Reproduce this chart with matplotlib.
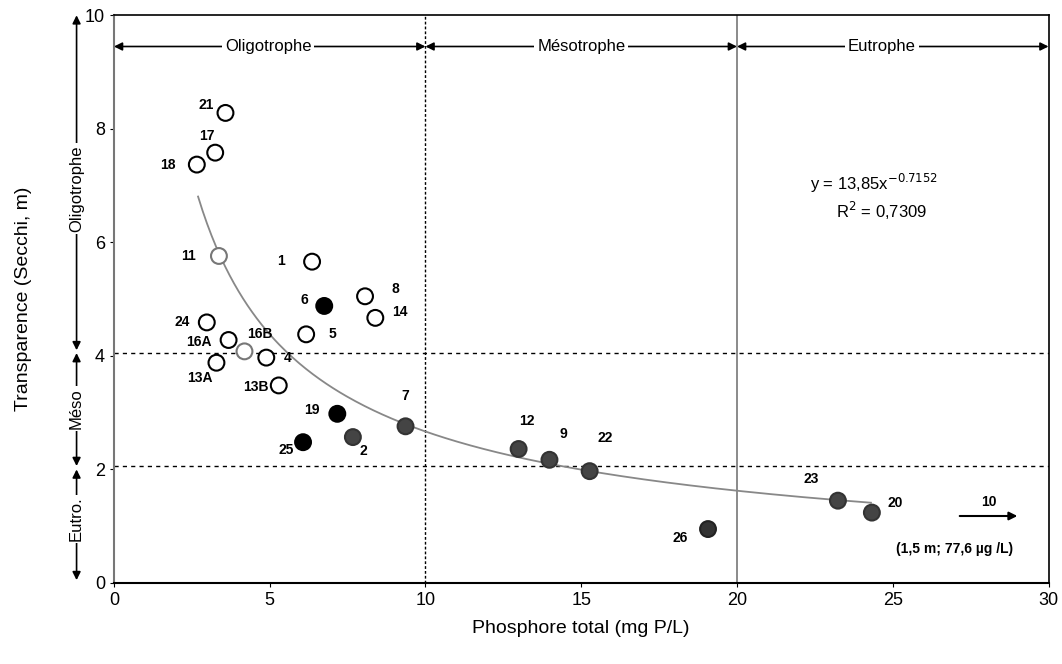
import matplotlib.pyplot as plt
import matplotlib.transforms as mtransforms
import numpy as np

plt.rcParams["font.family"] = ["Liberation Sans", "DejaVu Sans"]

# station data (total P, Secchi depth)
labels = ["21", "17", "18", "11", "1", "8", "6", "14", "24", "5", "16A", "16B", "4",
          "13A", "13B", "19", "7", "25", "2", "12", "9", "22", "26", "23", "20"]
phos = [3.58, 3.25, 2.66, 3.37, 6.36, 8.06, 6.75, 8.39, 2.98, 6.17, 3.68, 4.19, 4.89,
        3.29, 5.29, 7.17, 9.36, 6.07, 7.67, 12.99, 13.98, 15.27, 19.07, 23.24, 24.33]
secchi = [8.28, 7.58, 7.37, 5.76, 5.66, 5.05, 4.88, 4.67, 4.59, 4.38, 4.28, 4.08, 3.97,
          3.88, 3.48, 2.98, 2.76, 2.48, 2.57, 2.36, 2.17, 1.97, 0.95, 1.45, 1.24]
face = ["white", "white", "white", "white", "white", "white", "black", "white", "white",
        "white", "white", "white", "white", "white", "white", "black", "#444444", "black",
        "#444444", "#444444", "#444444", "#444444", "#333333", "#444444", "#444444"]
edge = ["black", "black", "black", "#777777", "black", "black", "black", "black", "black",
        "black", "black", "#777777", "black", "black", "black", "black", "#333333", "black",
        "#333333", "#333333", "#333333", "#333333", "#222222", "#333333", "#333333"]
# label offsets in pixels (dx, dy)
offsets = [(-19, 8), (-8, 17), (-29, 0), (-30, 0), (-31, 1), (30, 7), (-20, 6), (25, 6),
           (-25, 0), (26, 0), (-30, -2), (15, 17), (21, 0), (-17, -15), (-23, -2), (-25, 4),
           (0, 30), (-17, -8), (10, -14), (8, 28), (14, 26), (15, 33), (-28, -9), (-27, 22),
           (23, 10)]

fit_a = 13.85
fit_b = -0.7152
fit_range = (2.7, 24.3)

x_limits = (0, 30)
y_limits = (0, 10)
p_bounds = [10, 20]
s_bounds = [4.05, 2.06]

fig = plt.figure(figsize=(10.62, 6.64), dpi=100)
ax = fig.add_axes([0.1073, 0.122, 0.88, 0.855])
ax.set_xlim(*x_limits)
ax.set_ylim(*y_limits)

# fit curve
xf = np.linspace(fit_range[0], fit_range[1], 300)
ax.plot(xf, fit_a * xf ** fit_b, color="#888888", lw=1.3, zorder=2)

# class boundaries
ax.axvline(p_bounds[0], color="black", lw=1.0, ls=(0, (2, 1.5)), zorder=1)
ax.axvline(p_bounds[1], color="#777777", lw=1.2, zorder=1)
for yb in s_bounds:
    ax.axhline(yb, color="black", lw=1.0, ls=(0, (3, 3)), zorder=1)

ax.scatter(phos, secchi, s=130, c=face, edgecolors=edge, linewidths=1.5, zorder=3)
for lab, x, y, (dx, dy) in zip(labels, phos, secchi, offsets):
    ax.annotate(lab, (x, y), xytext=(dx * 0.72, dy * 0.72), textcoords="offset points",
                ha="center", va="center", fontsize=10, fontweight="bold", zorder=4)

# top trophic classes
top_y = 9.45
classes = [("Oligotrophe", 0, 10, 4.95), ("Mésotrophe", 10, 20, 15.0), ("Eutrophe", 20, 30, 24.65)]
for name, x0, x1, xt in classes:
    ax.annotate("", xy=(x0, top_y), xytext=(x1, top_y),
                arrowprops=dict(arrowstyle="<|-|>", color="black", lw=1.2,
                                mutation_scale=12, shrinkA=0, shrinkB=0))
    ax.text(xt, top_y, name, ha="center", va="center", fontsize=12,
            bbox=dict(facecolor="white", edgecolor="none", pad=2))

# left trophic classes (Secchi)
trans = mtransforms.blended_transform_factory(ax.transAxes, ax.transData)
side_x = -0.04
side = [("Oligotrophe", 4.1, 10, 6.95), ("Méso", 2.06, 4.05, 3.08), ("Eutro.", 0.05, 2.0, 1.13)]
for name, y0, y1, yt in side:
    ax.annotate("", xy=(side_x, y0), xytext=(side_x, y1), xycoords=trans, textcoords=trans,
                arrowprops=dict(arrowstyle="<|-|>", color="black", lw=1.2,
                                mutation_scale=12, shrinkA=0, shrinkB=0),
                annotation_clip=False)
    ax.text(side_x, yt, name, transform=trans, rotation=90, ha="center", va="center",
            fontsize=12, bbox=dict(facecolor="white", edgecolor="none", pad=1.5))

# equation
ax.text(24.4, 7.04, "y = 13,85x$^{\\mathrm{-0.7152}}$", ha="center", va="center", fontsize=12)
ax.text(24.65, 6.55, "R$^2$ = 0,7309", ha="center", va="center", fontsize=12)

# off-scale station 10
ax.annotate("", xy=(29.0, 1.18), xytext=(27.15, 1.18),
            arrowprops=dict(arrowstyle="-|>", color="black", lw=1.5, mutation_scale=12,
                            shrinkA=0, shrinkB=0))
ax.text(28.1, 1.43, "10", ha="center", va="center", fontsize=10, fontweight="bold")
ax.text(27.0, 0.6, "(1,5 m; 77,6 µg /L)", ha="center", va="center", fontsize=10,
        fontweight="bold")

ax.set_xticks(np.arange(0, 31, 5))
ax.set_yticks(np.arange(0, 11, 2))
ax.tick_params(labelsize=13, length=3)
ax.spines["left"].set_color("#777777")
ax.spines["left"].set_linewidth(1.5)
ax.spines["bottom"].set_linewidth(1.5)
ax.spines["right"].set_linewidth(1.2)
ax.spines["top"].set_linewidth(1.2)

ax.set_xlabel("Phosphore total (mg P/L)", fontsize=14, labelpad=8)
ax.set_ylabel("Transparence (Secchi, m)", fontsize=14, labelpad=38)

fig.savefig("out.png", dpi=100)
